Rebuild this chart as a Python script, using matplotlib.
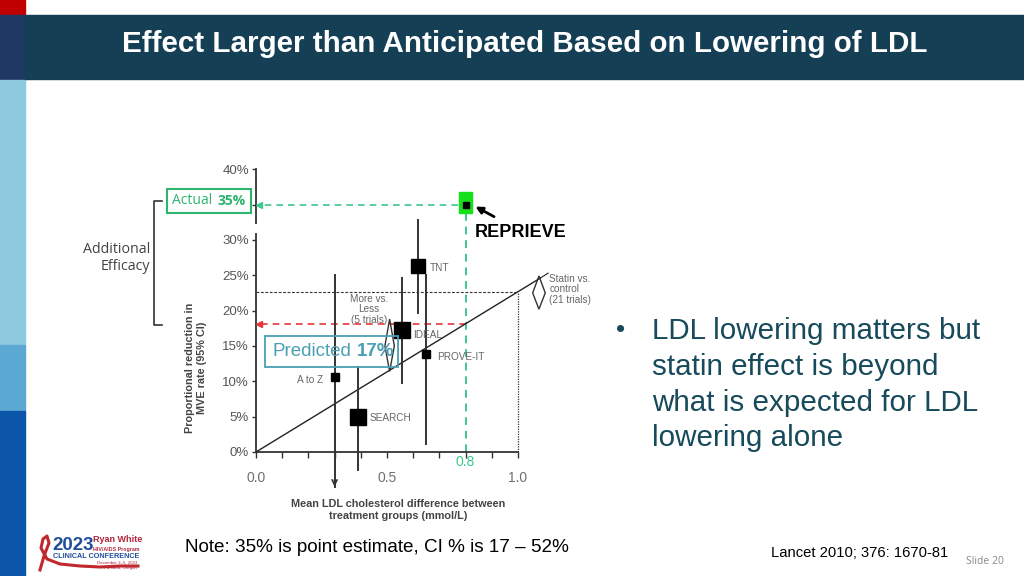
import matplotlib
matplotlib.use('Agg')
import matplotlib.pyplot as plt
from matplotlib.patches import Rectangle, Polygon
from matplotlib.ticker import FixedLocator
import numpy as np

plt.rcParams['font.family'] = ['Liberation Sans', 'DejaVu Sans']

# ---------------- data ----------------
trial_names = ['A to Z', 'SEARCH', 'IDEAL', 'TNT', 'PROVE-IT']
trial_ldl = [0.30, 0.39, 0.556, 0.62, 0.65]
trial_reduction = [10.6, 5.0, 17.2, 26.3, 13.8]
trial_ci_low = [-5.0, -2.6, 9.8, 19.7, 1.2]
trial_ci_high = [25.0, 12.0, 24.6, 32.8, 25.0]
trial_weight = [5.5, 11, 11, 9.5, 5.5]

meta_names = ['More vs.\nLess\n(5 trials)', 'Statin vs.\ncontrol\n(21 trials)']
meta_ldl = [0.51, 1.08]
meta_reduction = [15.0, 22.5]
meta_ci_low = [11.4, 20.2]
meta_ci_high = [18.8, 24.9]

fit_x = [0.0, 1.085]
fit_y = [0.0, 24.6]

reprieve_ldl = 0.8
reprieve_reduction = 35.0
reprieve_ci = [33.8, 36.8]
actual_label = 35
predicted_label = 17

y_ticks = [0, 5, 10, 15, 20, 25, 30, 35, 40]
y_labels = ['0%', '5%', '10%', '15%', '20%', '25%', '30%', '', '40%']
x_ticks = [0.0, 0.5, 1.0]
x_labels = ['0.0', '0.5', '1.0']
x_minor = [0.1, 0.2, 0.3, 0.4, 0.6, 0.7, 0.8, 0.9]

title = 'Effect Larger than Anticipated Based on Lowering of LDL'
bullet_lines = ['LDL lowering matters but', 'statin effect is beyond',
                'what is expected for LDL', 'lowering alone']
note = 'Note: 35% is point estimate, CI % is 17 \u2013 52%'
ref = 'Lancet 2010; 376: 1670-81'

# ---------------- figure ----------------
W, H = 1024, 576
fig = plt.figure(figsize=(W / 100, H / 100), dpi=100)
fig.patch.set_facecolor('white')


def fx(x):
    return x / W


def fy(y):
    return 1 - y / H


def frect(x0, y0, x1, y1, color):
    fig.patches.append(Rectangle((fx(x0), fy(y1)), fx(x1 - x0), (y1 - y0) / H,
                                 transform=fig.transFigure, color=color, zorder=0))


# sidebar & title bar
frect(0, 0, 25, 15, '#c00000')
frect(0, 15, 25, 80, '#1f3864')
frect(0, 80, 25, 345, '#8dcadf')
frect(0, 345, 25, 411, '#5ba8d2')
frect(0, 411, 25, 576, '#0b56a9')
frect(25, 15, 1024, 79, '#143f55')
fig.text(fx(525), fy(44), title, color='white', fontsize=21.3, fontweight='bold',
         ha='center', va='center')

# ---------------- chart axes ----------------
ppx = 262.0   # pixels per mmol/L
ppy = 7.07    # pixels per %
x0p, y0p = 256, 452
xlim = (0, 1.15)
ylim = (-7, 41)
ax = fig.add_axes([fx(x0p), fy(y0p - ylim[0] * ppy), (xlim[1] - xlim[0]) * ppx / W,
                   (ylim[1] - ylim[0]) * ppy / H])
ax.set_xlim(*xlim)
ax.set_ylim(*ylim)
ax.patch.set_alpha(0)
for s in ['top', 'right']:
    ax.spines[s].set_visible(False)
ax.spines['left'].set_bounds(0, 40)
ax.spines['bottom'].set_position(('data', 0))
ax.spines['bottom'].set_bounds(0, 1.0)
for s in ['left', 'bottom']:
    ax.spines[s].set_color('#333333')
    ax.spines[s].set_linewidth(1.3)

ax.yaxis.set_major_locator(FixedLocator(y_ticks))
ax.set_yticklabels(y_labels)
ax.xaxis.set_major_locator(FixedLocator(x_ticks))
ax.set_xticklabels(x_labels)
ax.xaxis.set_minor_locator(FixedLocator(x_minor))
ax.tick_params(axis='y', length=3, width=1, color='#333333', labelsize=9.5,
               labelcolor='#555555', pad=2)
ax.tick_params(axis='x', which='both', length=4, width=1, color='#333333',
               direction='out', labelsize=10, labelcolor='#707070', pad=10)

# reference lines
slope = fit_y[1] / fit_x[1]
pred_val = slope * reprieve_ldl
statin_at_1 = slope * 1.0
ax.plot([0, 1.0], [statin_at_1, statin_at_1], color='#333333', lw=0.8,
        ls=(0, (2.5, 1.5)), zorder=2)
ax.plot([1.0, 1.0], [0, statin_at_1], color='#333333', lw=0.9,
        ls=(0, (1, 1)), zorder=2)
green = '#3cc88c'
ax.plot([reprieve_ldl - 0.03, 0.01], [reprieve_reduction, reprieve_reduction],
        color=green, lw=1.2, ls=(0, (4, 3)), zorder=2)
ax.plot([0.012], [reprieve_reduction], marker='<', color=green, ms=4, zorder=3)
ax.plot([reprieve_ldl, reprieve_ldl], [reprieve_ci[0], 0], color=green, lw=1.4,
        ls=(0, (4, 3)), zorder=2)
ax.plot([reprieve_ldl, 0.01], [pred_val, pred_val], color='#e8353c', lw=1.2,
        ls=(0, (4, 3)), zorder=2)
ax.plot([0.012], [pred_val], marker='<', color='#e8353c', ms=4, zorder=3)

# y-axis break between 30% and 35%
ax.plot([0, 0], [31.0, 32.2], color='white', lw=3, zorder=5, clip_on=False,
        solid_capstyle='butt')

# regression line
ax.plot(fit_x, fit_y, color='#222222', lw=1.0, zorder=3)
ax.plot([fit_x[1], 1.115], [fit_y[1], 25.3], color='#222222', lw=0.8,
        zorder=3, clip_on=False)

# trials
for name, x, y, lo, hi, w in zip(trial_names, trial_ldl, trial_reduction,
                                  trial_ci_low, trial_ci_high, trial_weight):
    ax.plot([x, x], [lo, hi], color='#333333', lw=1.4, zorder=3, clip_on=False)
    ax.plot([x], [y], marker='s', color='black', ms=w, zorder=4, clip_on=False)
# arrow at bottom of A to Z
ax.annotate('', xy=(trial_ldl[0], trial_ci_low[0] - 0.3),
            xytext=(trial_ldl[0], trial_ci_low[0] + 1.5),
            arrowprops=dict(arrowstyle='->', color='#333333', lw=1.2,
                            mutation_scale=9))

lbl_kw = dict(fontsize=7.2, color='#666666', va='center')
ax.text(trial_ldl[0] - 0.045, trial_reduction[0] - 0.4, trial_names[0], ha='right', **lbl_kw)
ax.text(trial_ldl[1] + 0.045, trial_reduction[1] - 0.2, trial_names[1], ha='left', **lbl_kw)
ax.text(trial_ldl[2] + 0.045, trial_reduction[2] - 0.6, trial_names[2], ha='left', **lbl_kw)
ax.text(trial_ldl[3] + 0.045, trial_reduction[3] - 0.3, trial_names[3], ha='left', **lbl_kw)
ax.text(trial_ldl[4] + 0.04, trial_reduction[4] - 0.3, trial_names[4], ha='left', **lbl_kw)

# meta-analysis diamonds
diamond_dx = [0.018, 0.024]
for x, m, lo, hi, dx in zip(meta_ldl, meta_reduction, meta_ci_low, meta_ci_high, diamond_dx):
    ax.add_patch(Polygon([(x, lo), (x + dx, m), (x, hi), (x - dx, m)], closed=True,
                         fill=False, edgecolor='#333333', lw=1.0, zorder=4,
                         clip_on=False))
ax.text(meta_ldl[0] - 0.08, 20.2, meta_names[0], ha='center', va='center',
        fontsize=7.2, color='#666666', linespacing=1.05)
ax.text(meta_ldl[1] + 0.04, 23.0, meta_names[1], ha='left', va='center',
        fontsize=7.2, color='#666666', linespacing=1.05)

# REPRIEVE
ax.add_patch(Rectangle((reprieve_ldl - 0.024, reprieve_ci[0]), 0.049,
                       reprieve_ci[1] - reprieve_ci[0], color='#16e01a', zorder=4))
ax.plot([reprieve_ldl], [reprieve_reduction], marker='s', color='black', ms=5, zorder=5)
ax.annotate('', xy=(reprieve_ldl + 0.028, reprieve_reduction - 0.1),
            xytext=(reprieve_ldl + 0.118, reprieve_reduction - 1.9),
            arrowprops=dict(arrowstyle='-|>', color='black', lw=2.0,
                            mutation_scale=10), zorder=6)
ax.text(reprieve_ldl + 0.035, 31.1, 'REPRIEVE', fontsize=13, fontweight='bold',
        ha='left', va='center', color='black')
ax.text(reprieve_ldl, -1.4, '0.8', fontsize=10, color=green, ha='center', va='center')

# axis labels
fig.text(fx(196), fy(368), 'Proportional reduction in\nMVE rate (95% CI)', rotation=90,
         ha='center', va='center', fontsize=7.8, fontweight='bold', color='#444444',
         linespacing=1.15)
fig.text(fx(398), fy(510), 'Mean LDL cholesterol difference between\ntreatment groups (mmol/L)',
         ha='center', va='center', fontsize=7.8, fontweight='bold', color='#444444',
         linespacing=1.25)

# Actual box
cal = ['Open Sans', 'DejaVu Sans']
fig.patches.append(Rectangle((fx(167), fy(213)), fx(84), 24 / H, transform=fig.transFigure,
                             fill=False, edgecolor='#2db46e', lw=1.5, zorder=5))
fig.text(fx(172), fy(201), 'Actual', family=cal, fontsize=10, color='#2db46e',
         ha='left', va='center')
fig.text(fx(218), fy(201), f'{actual_label}%', family=cal, fontsize=10, color='#2db46e',
         fontweight='bold', ha='left', va='center')

# Predicted box
teal = '#4a9fb4'
fig.patches.append(Rectangle((fx(265), fy(367)), fx(133), 31 / H, transform=fig.transFigure,
                             fill=False, edgecolor=teal, lw=1.3, zorder=5))
fig.text(fx(273), fy(352), 'Predicted', fontsize=13.5, color=teal, ha='left', va='center')
fig.text(fx(357), fy(352), f'{predicted_label}%', fontsize=13.5, color=teal,
         fontweight='bold', ha='left', va='center')

# Additional efficacy bracket
bx = [162, 154, 154, 162]
by = [201, 201, 325, 325]
fig.lines.append(plt.Line2D([fx(v) for v in bx], [fy(v) for v in by],
                            transform=fig.transFigure, color='#333333', lw=1.2))
fig.text(fx(150), fy(258), 'Additional\nEfficacy', family=cal, fontsize=10.3,
         color='#444444', ha='right', va='center', linespacing=1.25)

# bullet text
bcol = '#174a5a'
fig.text(fx(616), fy(330), '\u2022', fontsize=19, color=bcol, ha='left', va='center')
for i, line in enumerate(bullet_lines):
    fig.text(fx(652), fy(331 + i * 35.8), line, fontsize=21.3, color=bcol,
             ha='left', va='center')

# footer
fig.text(fx(185), fy(548), note, fontsize=13.6, color='black', ha='left', va='center')
fig.text(fx(771), fy(553), ref, fontsize=10.6, color='black', ha='left', va='center')
fig.text(fx(966), fy(562), 'Slide 20', family=cal, fontsize=7.5, color='#888888',
         ha='left', va='center')

# logo
rx = [40, 44, 49, 47, 43, 41, 47, 60, 80, 100, 120, 138]
ry = [570, 556, 543, 536, 539, 548, 559, 564, 566, 567, 566, 566]
fig.lines.append(plt.Line2D([fx(v) for v in rx], [fy(v) for v in ry],
                            transform=fig.transFigure, color='#c0282d', lw=2.2))
fig.text(fx(52), fy(546), '2023', fontsize=13.5, fontweight='bold', color='#1f4e9a',
         ha='left', va='center')
fig.text(fx(93), fy(540), 'Ryan White', fontsize=6.5, fontweight='bold', color='#b0263c',
         ha='left', va='center')
fig.text(fx(93), fy(549), 'HIV/AIDS Program', fontsize=3.8, fontweight='bold',
         color='#b0263c', ha='left', va='center')
fig.text(fx(53), fy(557), 'CLINICAL CONFERENCE', fontsize=5.2, fontweight='bold',
         color='#1f4e9a', ha='left', va='center')
fig.text(fx(137), fy(563), 'December 3\u20135, 2023', fontsize=3.2, color='#b0263c',
         ha='right', va='center')
fig.text(fx(137), fy(568), 'Portland, Oregon', fontsize=3.2, color='#b0263c',
         ha='right', va='center')

fig.savefig('out.png', dpi=100, facecolor='white')
